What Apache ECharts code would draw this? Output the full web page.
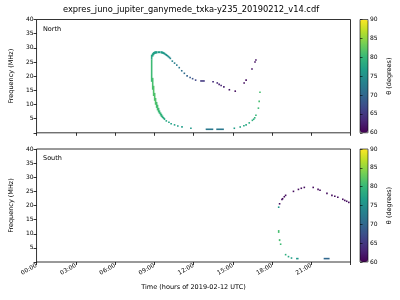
<!DOCTYPE html>
<html><head><meta charset="utf-8">
<script src="https://cdn.jsdelivr.net/npm/echarts@6/dist/echarts.min.js"></script>
<style>html,body{margin:0;background:#fff}#c{width:400px;height:300px}</style>
</head><body><div id="c"></div>
<script>
// Each row: [timeStart (h), timeEnd (h), freqLow (MHz), freqHigh (MHz), theta (deg)]
const northLowerBranch = [
  [8.76, 8.84, 18.0, 25.8, 80.5], [8.88, 8.88, 15.2, 19.4, 81], [8.95, 8.95, 13.0, 16.6, 81.5],
  [9.03, 9.03, 11.3, 14.1, 81.5], [9.10, 9.10, 9.9, 12.3, 81.5], [9.18, 9.18, 8.8, 10.9, 81],
  [9.25, 9.25, 7.9, 9.9, 81], [9.33, 9.33, 7.2, 8.8, 80.5], [9.40, 9.40, 6.7, 7.9, 80],
  [9.48, 9.48, 6.1, 7.2, 80], [9.55, 9.55, 5.6, 6.7, 79.5], [9.63, 9.63, 5.2, 6.1, 79],
  [9.71, 9.71, 4.9, 5.6, 78.5], [9.78, 9.78, 4.5, 5.2, 78.5], [9.92, 9.92, 4.2, 4.2, 78],
  [10.12, 10.12, 3.7, 3.7, 77.5], [10.29, 10.29, 3.2, 3.2, 77], [10.55, 10.55, 2.8, 2.8, 77],
  [10.80, 10.80, 2.4, 2.4, 76.5], [11.12, 11.12, 2.1, 2.1, 76.5], [11.80, 11.80, 1.6, 1.6, 76]
];
const northUpperBranch = [
  [8.80, 8.80, 25.8, 27.6, 78], [8.88, 8.88, 26.9, 28.1, 77.5], [8.95, 8.95, 27.4, 28.5, 77],
  [9.03, 9.03, 27.8, 28.7, 77], [9.10, 9.10, 27.9, 28.8, 77], [9.18, 9.18, 28.0, 28.8, 76.5],
  [9.25, 9.48, 28.1, 28.8, 76.5], [9.55, 9.55, 28.0, 28.8, 76.5], [9.63, 9.63, 27.9, 28.7, 76.5],
  [9.71, 9.71, 27.8, 28.5, 76], [9.78, 9.78, 27.6, 28.3, 76], [9.86, 9.86, 27.4, 28.0, 75.5],
  [9.93, 9.93, 27.1, 27.8, 75.5], [10.01, 10.01, 26.9, 27.5, 75], [10.08, 10.08, 26.6, 27.2, 75],
  [10.16, 10.16, 26.3, 26.9, 74.5], [10.23, 10.23, 26.0, 26.5, 74],
  [10.38, 10.38, 25.3, 25.3, 73.5], [10.55, 10.55, 24.6, 24.6, 73], [10.72, 10.72, 23.9, 23.9, 72.5],
  [10.91, 10.91, 23.0, 23.0, 72], [11.10, 11.10, 21.9, 21.9, 71], [11.30, 11.30, 21.0, 21.0, 70.5],
  [11.51, 11.51, 20.1, 20.1, 69.5], [11.74, 11.74, 19.5, 19.5, 68.5], [11.93, 11.93, 19.1, 19.1, 67.5],
  [12.16, 12.16, 18.6, 18.6, 66.5], [12.51, 12.86, 18.3, 18.3, 65], [13.43, 13.56, 18.0, 18.0, 64],
  [13.76, 13.87, 17.6, 17.6, 63.5], [13.96, 13.96, 17.1, 17.1, 63], [14.11, 14.11, 16.7, 16.7, 63],
  [14.32, 14.32, 16.2, 16.2, 62.5], [14.74, 14.74, 15.2, 15.2, 61.5], [15.19, 15.19, 14.7, 14.7, 61],
  [15.87, 15.87, 17.6, 17.6, 61], [16.02, 16.02, 18.6, 18.6, 61], [16.47, 16.47, 22.5, 22.5, 61.5],
  [16.70, 16.70, 25.0, 25.0, 61.5], [16.77, 16.77, 25.7, 25.7, 61.5]
];
const northReturnBranch = [
  [12.93, 13.51, 1.24, 1.24, 72], [13.74, 14.32, 1.24, 1.24, 72], [15.12, 15.12, 1.6, 1.6, 76.5],
  [15.57, 15.57, 2.05, 2.05, 77.5], [15.85, 15.85, 2.5, 2.5, 78], [16.02, 16.02, 2.8, 2.8, 78],
  [16.26, 16.26, 3.5, 3.5, 78.5], [16.50, 16.50, 4.4, 4.4, 79], [16.60, 16.60, 4.8, 4.8, 79],
  [16.68, 16.68, 5.3, 5.3, 79.5], [16.77, 16.77, 6.2, 6.2, 80], [16.96, 16.96, 8.7, 8.7, 80.5],
  [17.02, 17.02, 11.1, 11.1, 81], [17.08, 17.08, 14.3, 14.3, 81]
];
const southArc = [
  [18.51, 18.51, 19.4, 19.4, 76], [18.58, 18.58, 20.6, 20.6, 61], [18.76, 18.76, 22.1, 22.1, 61],
  [18.81, 18.81, 22.4, 22.4, 61], [18.94, 18.94, 23.1, 23.1, 61], [19.04, 19.04, 23.6, 23.6, 61],
  [19.64, 19.64, 25.0, 25.0, 61], [20.02, 20.02, 25.7, 25.7, 61], [20.24, 20.24, 26.1, 26.1, 61],
  [20.47, 20.47, 26.4, 26.4, 61], [21.15, 21.15, 26.4, 26.4, 61], [21.52, 21.52, 25.7, 25.7, 61],
  [21.67, 21.67, 25.4, 25.4, 61], [22.20, 22.20, 24.3, 24.3, 61], [22.58, 22.58, 23.6, 23.6, 61],
  [22.80, 22.80, 23.3, 23.3, 61], [23.03, 23.03, 22.9, 22.9, 61], [23.41, 23.41, 22.2, 22.2, 61],
  [23.56, 23.56, 21.8, 21.8, 61], [23.71, 23.71, 21.5, 21.5, 61], [23.87, 23.87, 21.1, 21.1, 61]
];
const southLower = [
  [18.51, 18.51, 10.3, 11.3, 81], [18.58, 18.58, 7.4, 8.1, 81], [18.66, 18.66, 6.3, 6.3, 80.5],
  [19.04, 19.04, 2.6, 2.6, 79], [19.26, 19.26, 1.9, 1.9, 78], [19.49, 19.49, 1.4, 1.4, 77],
  [19.84, 20.03, 1.2, 1.2, 76], [21.95, 22.40, 1.2, 1.2, 70]
];
const yTicks = [0, 5, 10, 15, 20, 25, 30, 35, 40];
const thetaTicks = [60, 65, 70, 75, 80, 85, 90];
const hourTicks = [0, 3, 6, 9, 12, 15, 18, 21];
const titleText = 'expres_juno_jupiter_ganymede_txka-y235_20190212_v14.cdf';
const hemispheres = ['North', 'South'];

const viridis = ['#440154','#482878','#3e4989','#31688e','#26828e','#1f9e89','#35b779','#6ece58','#b5de2b','#fde725'];
const FONT = 'DejaVu Sans';
const TICK_FS = 6;

function renderItem(params, api) {
  const p0 = api.coord([api.value(0), api.value(3)]);
  const p1 = api.coord([api.value(1), api.value(2)]);
  let x = p0[0], y = p0[1], w = p1[0] - p0[0], h = p1[1] - p0[1];
  const m = 1.6;
  if (w < m) { x -= (m - w) / 2; w = m; }
  if (h < m) { y -= (m - h) / 2; h = m; }
  return { type: 'rect', shape: { x, y, width: w, height: h }, style: { fill: api.visual('color') } };
}

const panels = [{ top: 19.5, height: 113.3 }, { top: 149, height: 113 }];
const plotLeft = 31.5, plotWidth = 319, cbLeft = 360, cbWidth = 8;

const grids = [], xAxes = [], yAxes = [], vms = [];
panels.forEach((p, i) => {
  grids.push({ left: plotLeft, top: p.top, width: plotWidth, height: p.height, show: true, borderColor: '#000', borderWidth: 0.8 });
  xAxes.push({
    gridIndex: i, type: 'value', min: 0, max: 24, interval: 3,
    axisLine: { show: false }, splitLine: { show: false },
    axisTick: { show: true, length: 3, lineStyle: { color: '#000', width: 0.8 } },
    axisLabel: i === 1 ? {
      show: true, rotate: 30, fontSize: TICK_FS, color: '#000', margin: 3, fontFamily: FONT,
      overflow: 'none', width: 100,
      formatter: v => hourTicks.includes(v) ? String(v).padStart(2, '0') + ':00' : ''
    } : { show: false },
    name: i === 1 ? 'Time (hours of 2019-02-12 UTC)' : '',
    nameLocation: 'middle', nameGap: 22,
    nameTextStyle: { fontSize: 6.5, color: '#000', fontFamily: FONT }
  });
  yAxes.push({
    gridIndex: i, type: 'value', min: yTicks[0], max: yTicks[yTicks.length - 1], interval: 5,
    axisLine: { show: false }, splitLine: { show: false },
    axisTick: { show: true, length: 3, lineStyle: { color: '#000', width: 0.8 } },
    axisLabel: { fontSize: TICK_FS, color: '#000', margin: 3, fontFamily: FONT, overflow: 'none', width: 40,
      formatter: v => (v === 0 ? '' : String(v)) },
    name: 'Frequency (MHz)', nameLocation: 'middle', nameGap: 17,
    nameTextStyle: { fontSize: 6.5, color: '#000', fontFamily: FONT }
  });
});
panels.forEach((p, i) => {
  grids.push({ left: cbLeft, top: p.top, width: cbWidth, height: p.height, show: true, borderColor: '#000', borderWidth: 0.6, z: 10 });
  xAxes.push({ gridIndex: 2 + i, type: 'value', show: false });
  yAxes.push({
    gridIndex: 2 + i, type: 'value', position: 'right', min: thetaTicks[0], max: thetaTicks[thetaTicks.length - 1], interval: 5, z: 10,
    axisLine: { show: false }, splitLine: { show: false },
    axisTick: { show: true, length: 2.5, lineStyle: { color: '#000', width: 0.6 } },
    axisLabel: { fontSize: TICK_FS, color: '#000', margin: 2, fontFamily: FONT, overflow: 'none', width: 40 },
    name: 'θ (degrees)', nameLocation: 'middle', nameRotate: 90, nameGap: 18,
    nameTextStyle: { fontSize: 6.5, color: '#000', fontFamily: FONT }
  });
  vms.push({
    type: 'continuous', seriesIndex: i, dimension: 4, min: 60, max: 90,
    inRange: { color: viridis }, left: cbLeft, top: p.top, itemWidth: cbWidth, itemHeight: p.height,
    padding: 0, text: null, calculable: false, hoverLink: false, orient: 'vertical', show: true
  });
});

const chart = echarts.init(document.getElementById('c'), null, { renderer: 'canvas' });
chart.setOption({
  animation: false,
  backgroundColor: '#fff',
  textStyle: { fontFamily: FONT },
  grid: grids, xAxis: xAxes, yAxis: yAxes, visualMap: vms,
  series: [
    { type: 'custom', xAxisIndex: 0, yAxisIndex: 0, renderItem, data: [...northLowerBranch, ...northUpperBranch, ...northReturnBranch] },
    { type: 'custom', xAxisIndex: 1, yAxisIndex: 1, renderItem, data: [...southArc, ...southLower] }
  ],
  graphic: [
    { type: 'text', x: 191, y: 10, style: { text: titleText, fill: '#000', font: '8.3px "DejaVu Sans"', align: 'center', verticalAlign: 'middle' } },
    { type: 'text', x: 43, y: 29, style: { text: hemispheres[0], fill: '#000', font: '6.5px "DejaVu Sans"', align: 'left', verticalAlign: 'middle' } },
    { type: 'text', x: 43, y: 158.5, style: { text: hemispheres[1], fill: '#000', font: '6.5px "DejaVu Sans"', align: 'left', verticalAlign: 'middle' } }
  ]
});
</script></body></html>
